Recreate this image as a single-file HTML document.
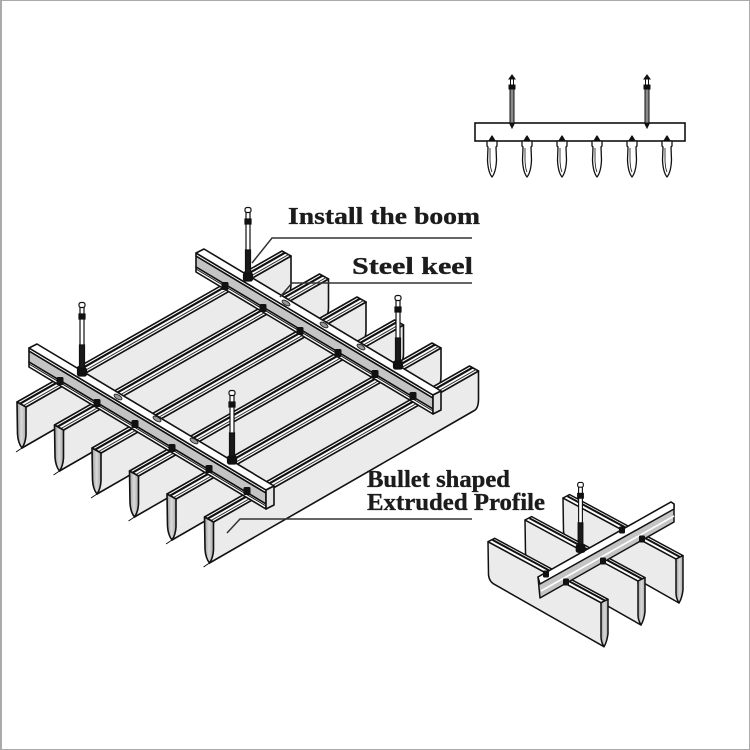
<!DOCTYPE html>
<html><head><meta charset="utf-8"><style>
html,body{margin:0;padding:0;background:#fff;}
svg{display:block;}
</style></head><body>
<svg width="750" height="750" viewBox="0 0 750 750" xmlns="http://www.w3.org/2000/svg">
<defs>
<linearGradient id="bg1" x1="0" x2="1" y1="0" y2="0">
<stop offset="0" stop-color="#9c9c9c"/><stop offset="0.5" stop-color="#dadada"/><stop offset="1" stop-color="#a6a6a6"/>
</linearGradient>
<g id="panel" stroke="#111" stroke-width="1.6" stroke-linejoin="round">
 <path d="M9,5 L274,-146 L274,-118 Q274,-108 269,-106 L5,46 Z" fill="#ebebeb"/>
 <path d="M0,0 L9,5 L274,-146 L265,-151 Z" fill="#fff"/>
 <path d="M3,1.7 L268,-149.3" fill="none" stroke-width="2.2"/>
 <path d="M6.5,3.6 L271.5,-147.4" fill="none" stroke-width="1" stroke="#333"/>
 <path d="M0,0 L9,5 L9,33 Q8.5,41 5,46 Q1,41 0.5,32 Z" fill="url(#bg1)"/>
 <path d="M5,46 L-1,50" fill="none" stroke-width="1"/>
</g>
<g id="keel" stroke="#111" stroke-width="1.6" stroke-linejoin="round">
 <path d="M0,3 L237,145 L237,156 L0,14 Z" fill="#c4c4c4"/>
 <path d="M0,14 L237,156 L237,161 L0,19 Z" fill="#fff"/>
 <path d="M0,16 L237,158" fill="none" stroke-width="1"/>
 <path d="M0,0 L237,142 L237,145 L0,3 Z" fill="#fff"/>
 <path d="M0,0 L8,-4 L245,138 L237,142 Z" fill="#fff"/>
 <path d="M237,142 L245,138 L245,157 L237,161 Z" fill="#e4e4e4"/>
</g>
<g id="rod" stroke="#111" stroke-width="1.2">
 <rect x="-2" y="5" width="4" height="8" fill="#fff"/>
 <rect x="-3" y="0.5" width="6" height="5" rx="2" fill="#fff"/>
 <rect x="-3" y="12" width="6" height="5" fill="#111"/>
 <rect x="-2" y="17" width="4" height="27" fill="#fff"/>
 <rect x="-2.5" y="43" width="5" height="24" fill="#1a1a1a"/>
 <rect x="-4.5" y="66" width="9" height="8" rx="2" fill="#111"/>
</g>
<g id="spanel" stroke="#111" stroke-width="1.5" stroke-linejoin="round">
 <path d="M0,0 L113,61 L116,105 L7,43 Q1,40 0.5,33 Z" fill="#ebebeb"/>
 <path d="M0,0 L6.7,-3.4 L120,57.6 L113,61 Z" fill="#fff"/>
 <path d="M4.5,-1.8 L117.5,59.2" fill="none" stroke-width="2"/>
 <path d="M113,61 L120,57.6 L120,92 Q119,100 116,105 Q113,100 113,95 Z" fill="url(#bg1)"/>
</g>
<g id="tbul" stroke="#111" stroke-width="1.3" stroke-linejoin="round">
 <path d="M-5,141 L5,141 L5,146 L4,147 L4.5,160 Q4,172 0,177 Q-4,172 -4.5,160 L-4,147 L-5,146 Z" fill="#fff"/>
 <path d="M-2,148 L-2,161 Q-1.5,169 0,172" fill="none" stroke-width="0.8"/>
 <path d="M-3,141 L0,136 L3,141 Z" fill="#111"/>
</g>
<g id="trod" stroke="#111" stroke-width="1">
 <path d="M-3,79 L0,75 L3,79 Z" fill="#111"/>
 <rect x="-1.5" y="79" width="3" height="6" fill="#fff"/>
 <rect x="-3" y="85" width="6" height="4" fill="#111"/>
 <rect x="-2" y="89" width="4" height="34" fill="#8a8a8a"/>
 <path d="M-2.5,123 L2.5,123 L0,128 Z" fill="#111"/>
</g>
</defs>

<!-- border -->
<rect x="0" y="0" width="2" height="750" fill="#aaa"/>
<rect x="0" y="0" width="750" height="1" fill="#aaa"/>
<rect x="749" y="0" width="1" height="750" fill="#aaa"/>
<rect x="0" y="749" width="750" height="1" fill="#aaa"/>

<!-- top-right elevation -->
<rect x="475" y="123" width="210" height="18" fill="#fff" stroke="#111" stroke-width="1.6"/>
<use href="#tbul" transform="translate(492,0)"/>
<use href="#tbul" transform="translate(527,0)"/>
<use href="#tbul" transform="translate(562,0)"/>
<use href="#tbul" transform="translate(597,0)"/>
<use href="#tbul" transform="translate(632,0)"/>
<use href="#tbul" transform="translate(667,0)"/>
<use href="#trod" transform="translate(512,0)"/>
<use href="#trod" transform="translate(647,0)"/>

<!-- main panels -->
<use href="#panel" transform="translate(17,402)"/>
<use href="#panel" transform="translate(54.5,425)"/>
<use href="#panel" transform="translate(92,448)"/>
<use href="#panel" transform="translate(129.5,471)"/>
<use href="#panel" transform="translate(167,494)"/>
<use href="#panel" transform="translate(204.5,517)"/>

<!-- keels -->
<use href="#keel" transform="translate(29,348)"/>
<use href="#keel" transform="translate(196,253)"/>

<!-- clips -->
<g fill="#111">
<rect x="-3.5" y="-4" width="7" height="8" rx="1.5" transform="translate(60,381)"/>
<rect x="-3.5" y="-4" width="7" height="8" rx="1.5" transform="translate(97,403)"/>
<rect x="-3.5" y="-4" width="7" height="8" rx="1.5" transform="translate(135,424)"/>
<rect x="-3.5" y="-4" width="7" height="8" rx="1.5" transform="translate(172,448)"/>
<rect x="-3.5" y="-4" width="7" height="8" rx="1.5" transform="translate(209,469)"/>
<rect x="-3.5" y="-4" width="7" height="8" rx="1.5" transform="translate(247,491)"/>
<rect x="-3.5" y="-4" width="7" height="8" rx="1.5" transform="translate(225,286)"/>
<rect x="-3.5" y="-4" width="7" height="8" rx="1.5" transform="translate(263,308)"/>
<rect x="-3.5" y="-4" width="7" height="8" rx="1.5" transform="translate(300,331)"/>
<rect x="-3.5" y="-4" width="7" height="8" rx="1.5" transform="translate(338,353)"/>
<rect x="-3.5" y="-4" width="7" height="8" rx="1.5" transform="translate(375,374)"/>
<rect x="-3.5" y="-4" width="7" height="8" rx="1.5" transform="translate(413,396)"/>
</g>
<!-- slots -->
<g fill="#9a9a9a" stroke="#222" stroke-width="0.9">
<ellipse cx="118" cy="397" rx="4.5" ry="2" transform="rotate(31 118 397)"/>
<ellipse cx="157" cy="419" rx="4.5" ry="2" transform="rotate(31 157 419)"/>
<ellipse cx="194" cy="441" rx="4.5" ry="2" transform="rotate(31 194 441)"/>
<ellipse cx="286" cy="303" rx="4.5" ry="2" transform="rotate(31 286 303)"/>
<ellipse cx="324" cy="325" rx="4.5" ry="2" transform="rotate(31 324 325)"/>
<ellipse cx="361" cy="347" rx="4.5" ry="2" transform="rotate(31 361 347)"/>
</g>

<!-- rods -->
<use href="#rod" transform="translate(82,302)"/>
<use href="#rod" transform="translate(232,390)"/>
<use href="#rod" transform="translate(248,207)"/>
<use href="#rod" transform="translate(398,295)"/>

<!-- leader lines -->
<g stroke="#333" stroke-width="1.5" fill="none">
<path d="M252,263 L272,238 L472,238"/>
<path d="M280,297 L292,283 L472,283"/>
<path d="M227,533 L240,519 L472,519"/>
</g>

<!-- labels -->
<g font-family="'Liberation Serif', serif" font-weight="bold" font-size="24" fill="#1c1c1c" stroke="#1c1c1c" stroke-width="0.35">
<text x="288" y="224" textLength="192" lengthAdjust="spacingAndGlyphs">Install the boom</text>
<text x="352" y="274" textLength="121" lengthAdjust="spacingAndGlyphs">Steel keel</text>
<text x="367" y="487" textLength="143" lengthAdjust="spacingAndGlyphs">Bullet shaped</text>
<text x="367" y="510" textLength="178" lengthAdjust="spacingAndGlyphs">Extruded Profile</text>
</g>

<!-- small bottom-right diagram -->
<use href="#spanel" transform="translate(563,498)"/>
<use href="#spanel" transform="translate(525,520)"/>
<use href="#spanel" transform="translate(488,541.7)"/>
<g stroke="#111" stroke-width="1.5" stroke-linejoin="round">
 <path d="M538,577 L671,502 L674,504 L674,522 L540,598 Z" fill="#c4c4c4"/>
 <path d="M538,577 L671,502 L674,504 L674,509 L540,584 Z" fill="#fff"/>
 <path d="M541,591 L674,516" fill="none" stroke="#fff" stroke-width="1.6"/>
</g>
<g fill="#111">
<rect x="-3" y="-3.5" width="6" height="7" rx="1.2" transform="translate(566,582)"/>
<rect x="-3" y="-3.5" width="6" height="7" rx="1.2" transform="translate(603,561)"/>
<rect x="-3" y="-3.5" width="6" height="7" rx="1.2" transform="translate(642,539)"/>
<rect x="-3" y="-3.5" width="6" height="7" rx="1.2" transform="translate(546,574)"/>
<rect x="-3" y="-3.5" width="6" height="7" rx="1.2" transform="translate(622,530)"/>
</g>
<use href="#rod" transform="translate(580.5,482) scale(0.95)"/>
</svg>
</body></html>
